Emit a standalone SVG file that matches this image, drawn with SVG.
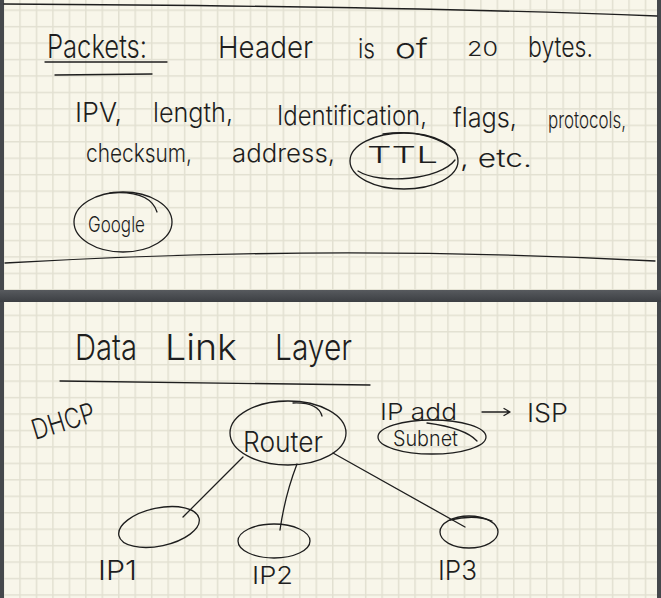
<svg xmlns="http://www.w3.org/2000/svg" width="661" height="598" viewBox="0 0 661 598">
<style>
.ink{fill:none;stroke:#1e1e1e;stroke-width:1.3;stroke-linecap:round;stroke-linejoin:round}
.t{font-family:Inter,"DejaVu Sans","Liberation Sans",sans-serif;font-weight:300;fill:#1e1e1e}
</style>
<defs>
<pattern id="gTop" patternUnits="userSpaceOnUse" x="19.25" y="9.45" width="16.46" height="16.45">
<path d="M0.75,0 V16.45 M0,0.75 H16.46" stroke="#e2e0d1" stroke-width="1.5" fill="none"/>
</pattern>
<pattern id="gBot" patternUnits="userSpaceOnUse" x="19.25" y="298.15" width="16.46" height="16.45">
<path d="M0.75,0 V16.45 M0,0.75 H16.46" stroke="#e2e0d1" stroke-width="1.5" fill="none"/>
</pattern>
<linearGradient id="band" x1="0" y1="0" x2="0" y2="1">
<stop offset="0" stop-color="#575a5e"/>
<stop offset="1" stop-color="#3c3f43"/>
</linearGradient>
</defs>
<rect width="661" height="598" fill="#45484c"/>
<rect x="0" y="290" width="661" height="12" fill="url(#band)"/>
<rect x="4" y="0" width="653" height="290" fill="#f8f6ea"/>
<rect x="4" y="0" width="653" height="290" fill="url(#gTop)"/>
<rect x="4" y="302" width="653" height="296" fill="#f8f6ea"/>
<rect x="4" y="302" width="653" height="296" fill="url(#gBot)"/>

<g id="page-lines">
<path class="ink" d="M4,4 C200,5 450,8 657,16"/>
<path class="ink" d="M5,263 Q330,244 655,261"/>
<path class="ink" d="M45,62 L167,62"/>
<path class="ink" d="M55,75 L152,74"/>
<path class="ink" d="M60,381 L370,385"/>
</g>

<g id="text-top">
<text class="t" y="58"><tspan x="47" font-size="32" textLength="100" lengthAdjust="spacingAndGlyphs">Packets:</tspan> <tspan x="218" font-size="30" textLength="95" lengthAdjust="spacingAndGlyphs">Header</tspan> <tspan x="358" font-size="27" textLength="17" lengthAdjust="spacingAndGlyphs">is</tspan> <tspan x="395" font-size="27" textLength="33" lengthAdjust="spacingAndGlyphs">of</tspan> <tspan x="467" y="56" font-size="20" textLength="31" lengthAdjust="spacingAndGlyphs">20</tspan> <tspan x="528" y="57" font-size="28" textLength="65" lengthAdjust="spacingAndGlyphs">bytes.</tspan></text>
<text class="t" font-size="27"><tspan x="75" y="122" textLength="47" lengthAdjust="spacingAndGlyphs">IPV,</tspan> <tspan x="153" y="122" textLength="80" lengthAdjust="spacingAndGlyphs">length,</tspan> <tspan x="277" y="125" textLength="150" lengthAdjust="spacingAndGlyphs">Identification,</tspan> <tspan x="453" y="127" textLength="64" lengthAdjust="spacingAndGlyphs">flags,</tspan> <tspan x="548" y="128" font-size="23" textLength="78" lengthAdjust="spacingAndGlyphs">protocols,</tspan></text>
<text class="t" font-size="25"><tspan x="86" y="162" textLength="106" lengthAdjust="spacingAndGlyphs">checksum,</tspan> <tspan x="232" y="162" textLength="103" lengthAdjust="spacingAndGlyphs">address,</tspan></text>
<text class="t" font-size="25" x="460" y="167" textLength="72" lengthAdjust="spacingAndGlyphs">, etc.</text>
</g>

<g id="node-ttl">
<ellipse class="ink" cx="404" cy="161" rx="54" ry="28"/>
<path class="ink" d="M358,171 C380,185 440,180 455,160"/>
<path class="ink" d="M383,134 Q425,128 455,150"/>
<text class="t" font-size="23" x="367" y="163" textLength="71" lengthAdjust="spacingAndGlyphs">TTL</text>
</g>

<g id="node-google">
<ellipse class="ink" cx="123" cy="222" rx="49" ry="30"/>
<path class="ink" d="M110,193 Q150,190 157,212"/>
<text class="t" font-size="22" x="88" y="232" textLength="57" lengthAdjust="spacingAndGlyphs">Google</text>
</g>

<g id="text-bottom">
<text class="t" font-size="36" y="360"><tspan x="75" textLength="62" lengthAdjust="spacingAndGlyphs">Data</tspan> <tspan x="165" textLength="72" lengthAdjust="spacingAndGlyphs">Link</tspan> <tspan x="275" textLength="77" lengthAdjust="spacingAndGlyphs">Layer</tspan></text>
<text class="t" font-size="28" x="35" y="440" textLength="65" lengthAdjust="spacingAndGlyphs" transform="rotate(-17 35 440)">DHCP</text>
<text class="t" font-size="23" x="380" y="420" textLength="77" lengthAdjust="spacingAndGlyphs">IP add</text>
<text class="t" font-size="25" x="527" y="422" textLength="41" lengthAdjust="spacingAndGlyphs">ISP</text>
</g>

<g id="connectors">
<path class="ink" d="M243,457 Q215,485 183,517"/>
<path class="ink" d="M297,464 Q285,495 280,530"/>
<path class="ink" d="M333,453 L465,527"/>
<path class="ink" d="M482,412 L510,412 M504,408.5 L510,412 L504,415.5"/>
</g>

<g id="node-router">
<ellipse class="ink" cx="288" cy="433" rx="58" ry="32"/>
<path class="ink" d="M293,403 Q318,402 322,416"/>
<text class="t" font-size="28" x="243" y="452" textLength="80" lengthAdjust="spacingAndGlyphs">Router</text>
</g>

<g id="node-subnet">
<ellipse class="ink" cx="432" cy="437" rx="54" ry="17"/>
<path class="ink" d="M427,423 Q465,428 477,441"/>
<text class="t" font-size="21" x="393" y="446" textLength="65" lengthAdjust="spacingAndGlyphs">Subnet</text>
</g>

<g id="node-ip1">
<ellipse class="ink" cx="159" cy="527" rx="41" ry="19" transform="rotate(-12 159 527)"/>
<text class="t" font-size="27" x="98" y="580" textLength="39" lengthAdjust="spacingAndGlyphs">IP1</text>
</g>

<g id="node-ip2">
<ellipse class="ink" cx="274" cy="541" rx="36" ry="17"/>
<text class="t" font-size="24" x="252" y="584" textLength="41" lengthAdjust="spacingAndGlyphs">IP2</text>
</g>

<g id="node-ip3">
<ellipse class="ink" cx="469" cy="532" rx="29" ry="16"/>
<path class="ink" d="M450,520 Q475,514 492,521"/>
<text class="t" font-size="27" x="438" y="580" textLength="39" lengthAdjust="spacingAndGlyphs">IP3</text>
</g>
</svg>
